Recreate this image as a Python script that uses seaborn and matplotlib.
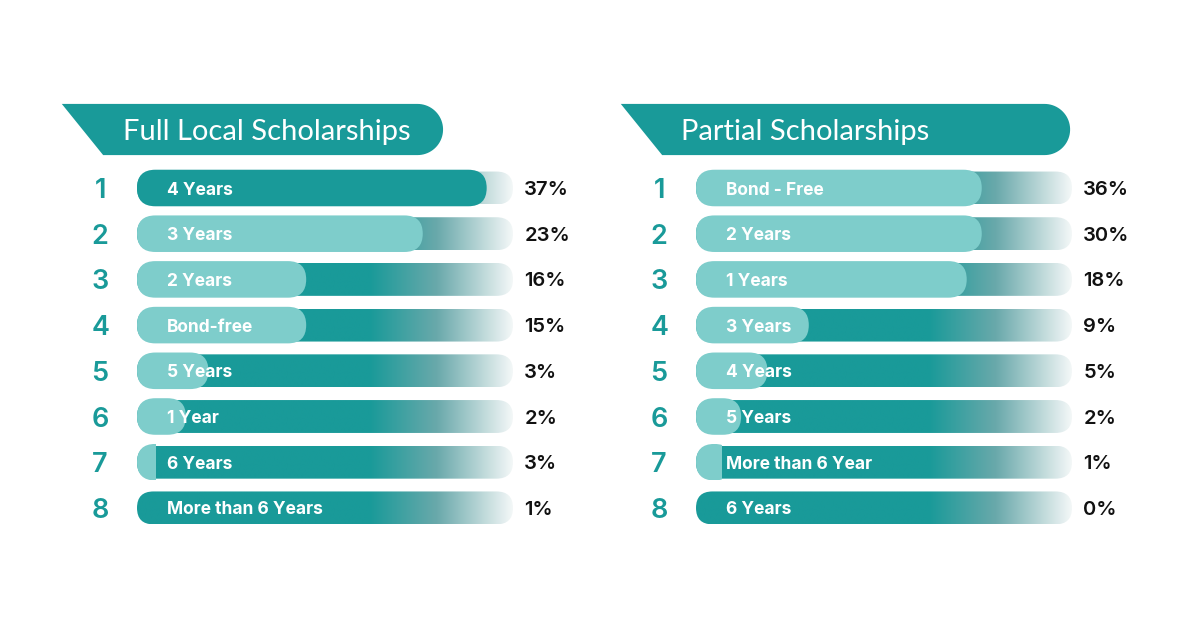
import matplotlib
matplotlib.use("Agg")
import numpy as np
import pandas as pd
import matplotlib.pyplot as plt
import seaborn as sns
from matplotlib.patches import FancyBboxPatch, Polygon, Rectangle
from matplotlib.transforms import IdentityTransform
from matplotlib.colors import LinearSegmentedColormap

# ---------------- data ----------------
ranks = [1, 2, 3, 4, 5, 6, 7, 8]

full_title = "Full Local Scholarships"
full_labels = ["4 Years", "3 Years", "2 Years", "Bond-free", "5 Years",
               "1 Year", "6 Years", "More than 6 Years"]
full_pct = [37, 23, 16, 15, 3, 2, 3, 1]
# length of the highlighted (overlay) bar, as % of the track
full_fill = [93, 76, 45, 45, 19, 13, 5, 0]

partial_title = "Partial Scholarships"
partial_labels = ["Bond - Free", "2 Years", "1 Years", "3 Years", "4 Years",
                  "5 Years", "More than 6 Year", "6 Years"]
partial_pct = [36, 30, 18, 9, 5, 2, 1, 0]
partial_fill = [76, 76, 72, 30, 19, 12, 7, 0]

# ---------------- style ----------------
TEAL = "#199a99"
LIGHT = "#7ecdcb"
sns.set_theme(style="white")
plt.rcParams["font.family"] = ["Inter", "DejaVu Sans"]

W, H = 1200, 639
fig = plt.figure(figsize=(W / 100, H / 100), dpi=100)
fig.patch.set_facecolor("white")

fade = LinearSegmentedColormap.from_list(
    "fade", [(0.0, TEAL), (0.62, TEAL), (0.8, "#6aa9ab"), (1.0, "#f3f7f7")])

XL = (-22, 120)
YL = (8.0, -2.3)
PX_PER_X = 3.76
PITCH = 45.7
ROW0_PX = 188


def axes_rect(track_left_px):
    left = track_left_px + XL[0] * PX_PER_X
    width = (XL[1] - XL[0]) * PX_PER_X
    top = ROW0_PX + YL[1] * PITCH
    bottom = ROW0_PX + YL[0] * PITCH
    return [left / W, (H - bottom) / H, width / W, (bottom - top) / H]


def to_px(ax, x, y):
    return ax.transData.transform((x, y))


def pill(x0, y0, w, h, **kw):
    r = min(h / 2, w / 2)
    return FancyBboxPatch((x0, y0), w, h,
                          boxstyle=f"round,pad=0,rounding_size={r}",
                          transform=IdentityTransform(), **kw)


def px_box(ax, p):
    (xa, ya) = to_px(ax, p.get_x(), p.get_y())
    (xb, yb) = to_px(ax, p.get_x() + p.get_width(), p.get_y() + p.get_height())
    return min(xa, xb), min(ya, yb), abs(xb - xa), abs(yb - ya)


def panel(track_left_px, title, labels, pct, fill, first_dark, banner_right,
          title_x):
    ax = fig.add_axes(axes_rect(track_left_px))
    df = pd.DataFrame({"label": labels, "track": [100] * len(labels),
                       "fill": fill, "pct": pct, "rank": ranks})
    sns.barplot(data=df, x="track", y="label", orient="h", order=labels,
                width=0.72, color=TEAL, errorbar=None, ax=ax)
    n_track = len(ax.patches)
    sns.barplot(data=df, x="fill", y="label", orient="h", order=labels,
                width=0.8, color=LIGHT, errorbar=None, ax=ax)
    ax.set_xlim(XL)
    ax.set_ylim(YL)
    ax.axis("off")

    patches = list(ax.patches)
    grad = np.linspace(0, 1, 256).reshape(1, -1)
    # tracks with gradient
    for p in patches[:n_track]:
        p.set_visible(False)
        x0, y0, w, h = px_box(ax, p)
        clip = pill(x0, y0, w, h, facecolor="none", edgecolor="none")
        ax.add_patch(clip)
        im = ax.imshow(grad, cmap=fade, aspect="auto", interpolation="bilinear",
                       extent=(p.get_x(), p.get_x() + p.get_width(),
                               p.get_y() + p.get_height(), p.get_y()),
                       zorder=2)
        im.set_clip_path(clip)
    # overlays
    for i, p in enumerate(patches[n_track:]):
        p.set_visible(False)
        if p.get_width() <= 0:
            continue
        x0, y0, w, h = px_box(ax, p)
        col = TEAL if (first_dark and i == 0) else LIGHT
        if w >= h:
            ax.add_patch(pill(x0, y0, w, h, facecolor=col, edgecolor="none",
                              zorder=3))
        else:
            c = pill(x0, y0, h, h, facecolor=col, edgecolor="none", zorder=3)
            ax.add_patch(c)
            c.set_clip_path(Rectangle((x0, y0), w, h,
                                      transform=IdentityTransform()))
    ax.set_xlim(XL)
    ax.set_ylim(YL)

    # texts
    for i, (lab, v, rk) in enumerate(zip(labels, pct, ranks)):
        ax.text(-9.8, i, str(rk), ha="center", va="center_baseline",
                fontsize=19.5, color=TEAL, fontweight="semibold", zorder=5)
        ax.text(8.0, i, lab, ha="left", va="center_baseline",
                fontsize=12.5, color="white", fontweight="bold", zorder=5)
        ax.text(103.0, i, f"{v}%", ha="left", va="center_baseline",
                fontsize=14.5, color="#111111", fontweight="semibold", zorder=5)

    # banner
    ytop, ybot = -1.84, -0.72
    xlt, ytp = to_px(ax, -20, ytop)
    xlb, ybp = to_px(ax, -9.0, ybot)
    xr, _ = to_px(ax, banner_right, ytop)
    r = (ytp - ybp) / 2
    cx, cy = xr - r, (ytp + ybp) / 2
    ang = np.linspace(np.pi / 2, -np.pi / 2, 40)
    verts = [(xlt, ytp), (cx, ytp)]
    verts += [(cx + r * np.cos(a), cy + r * np.sin(a)) for a in ang]
    verts += [(cx, ybp), (xlb, ybp)]
    ax.add_patch(Polygon(verts, closed=True, facecolor=TEAL, edgecolor="none",
                         transform=IdentityTransform(), zorder=2))
    ax.text(title_x, (ytop + ybot) / 2, title, ha="left", va="center_baseline",
            fontsize=21, color="white", family=["Lato", "DejaVu Sans"],
            zorder=5)
    return ax


panel(137, full_title, full_labels, full_pct, full_fill, True, 81.4, -3.7)
panel(696, partial_title, partial_labels, partial_pct, partial_fill, False,
      99.5, -4.0)

fig.savefig("out.png", dpi=100, facecolor="white")
